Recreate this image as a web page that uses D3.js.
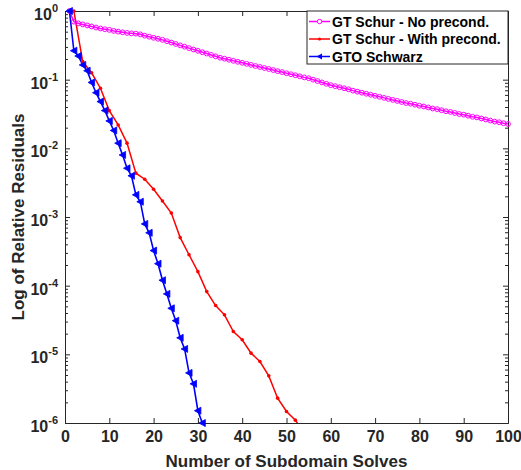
<!DOCTYPE html>
<html>
<head>
<meta charset="utf-8">
<script src="https://cdn.jsdelivr.net/npm/d3@7"></script>
<style>
  body { margin: 0; background: #fff; }
  svg { font-family: "Liberation Sans", Arial, sans-serif; font-weight: bold; }
</style>
</head>
<body>
<script>
// residuals
var noPrecX = d3.range(1, 101)
var noPrecY = [1.0, 0.700, 0.661, 0.638, 0.617, 0.596, 0.575, 0.556, 0.543, 0.531,
  0.513, 0.501, 0.490, 0.479, 0.473, 0.468, 0.457, 0.437, 0.422, 0.407,
  0.394, 0.380, 0.363, 0.347, 0.331, 0.316, 0.302, 0.288, 0.275, 0.263,
  0.251, 0.240, 0.229, 0.219, 0.209, 0.202, 0.195, 0.188, 0.182, 0.176,
  0.170, 0.164, 0.158, 0.153, 0.148, 0.143, 0.138, 0.133, 0.129, 0.124,
  0.120, 0.116, 0.112, 0.108, 0.105, 0.100, 0.0955, 0.0912, 0.0871, 0.0832,
  0.0804, 0.0776, 0.0750, 0.0724, 0.0692, 0.0668, 0.0646, 0.0624, 0.0603, 0.0582,
  0.0562, 0.0543, 0.0525, 0.0507, 0.0490, 0.0473, 0.0457, 0.0447, 0.0432, 0.0417,
  0.0407, 0.0394, 0.0380, 0.0372, 0.0359, 0.0347, 0.0339, 0.0327, 0.0316, 0.0309,
  0.0299, 0.0288, 0.0282, 0.0272, 0.0263, 0.0254, 0.0245, 0.0240, 0.0232, 0.0226]

var precX = [2, 4, 6, 8, 10, 12, 14, 16, 18, 20, 22, 24, 26, 28, 30, 32, 34, 36, 38, 40, 42, 44, 46, 48, 50, 52, 54]
var precY = [1.0, 0.183, 0.126, 0.075, 0.0354, 0.0219, 0.0119, 0.00435, 0.00355, 0.00254,
  0.00171, 0.00114, 5.01e-4, 2.82e-4, 1.60e-4, 8.2e-5, 5.13e-5, 3.76e-5, 2.15e-5, 1.63e-5,
  1.04e-5, 7.85e-6, 4.86e-6, 2.30e-6, 1.47e-6, 1.10e-6, 7.1e-7]

var gtoX = d3.range(1, 32)
var gtoY = [1.0, 0.264, 0.221, 0.164, 0.135, 0.0912, 0.0646, 0.0479, 0.0355, 0.0251,
  0.0182, 0.0119, 0.00802, 0.00513, 0.00398, 0.00210, 0.00167, 7.94e-4, 5.89e-4, 3.24e-4,
  2.09e-4, 1.20e-4, 7.59e-5, 4.68e-5, 3.09e-5, 1.74e-5, 1.20e-5, 5.37e-6, 3.72e-6, 1.51e-6,
  1.0e-6]

var seriesNames = ["GT Schur - No precond.", "GT Schur - With precond.", "GTO Schwarz"]
var xTicks = [0, 10, 20, 30, 40, 50, 60, 70, 80, 90, 100]
var yExponents = [0, -1, -2, -3, -4, -5, -6]

var width = 521, height = 470
// plot box (note: "top" is taken by window.top)
var pLeft = 65, pRight = 508, pTop = 11, pBottom = 423
var axisColor = "#262626"

var svg = d3.select("body").append("svg")
    .attr("width", width)
    .attr("height", height)

var x = d3.scaleLinear().domain([0, 100]).range([pLeft, pRight])
var y = d3.scaleLog().domain([1e-6, 1]).range([pBottom, pTop])

svg.append("clipPath").attr("id", "plotclip")
  .append("rect")
    .attr("x", pLeft).attr("y", pTop)
    .attr("width", pRight - pLeft).attr("height", pBottom - pTop)

// minor log ticks
var minorTicks = []
yExponents.slice(1).forEach(function(e) {
    for (var k = 2; k <= 9; k++) minorTicks.push(k * Math.pow(10, e))
})
var majorTicks = yExponents.map(function(e) { return Math.pow(10, e) })

var axes = svg.append("g")

axes.append("g")
    .attr("transform", "translate(0," + pBottom + ")")
    .call(d3.axisBottom(x).tickValues(xTicks).tickSizeInner(-5).tickSizeOuter(0).tickPadding(8))
axes.append("g")
    .attr("transform", "translate(0," + pTop + ")")
    .call(d3.axisTop(x).tickValues(xTicks).tickSizeInner(-5).tickSizeOuter(0).tickFormat(""))
axes.append("g")
    .attr("transform", "translate(" + pLeft + ",0)")
    .call(d3.axisLeft(y).tickValues(majorTicks).tickSizeInner(-5).tickSizeOuter(0).tickFormat(""))
axes.append("g")
    .attr("transform", "translate(" + pLeft + ",0)")
    .call(d3.axisLeft(y).tickValues(minorTicks).tickSizeInner(-3).tickSizeOuter(0).tickFormat(""))
axes.append("g")
    .attr("transform", "translate(" + pRight + ",0)")
    .call(d3.axisRight(y).tickValues(majorTicks).tickSizeInner(-5).tickSizeOuter(0).tickFormat(""))
axes.append("g")
    .attr("transform", "translate(" + pRight + ",0)")
    .call(d3.axisRight(y).tickValues(minorTicks).tickSizeInner(-3).tickSizeOuter(0).tickFormat(""))

axes.selectAll(".domain").attr("stroke", axisColor).attr("stroke-width", 1)
axes.selectAll(".tick line").attr("stroke", axisColor)
axes.selectAll(".tick text")
    .attr("fill", axisColor)
    .style("font-size", "16px")
    .style("font-family", "'Liberation Sans', Arial, sans-serif")
    .style("font-weight", "bold")

// y tick labels 10^n
var ylab = svg.append("g")
yExponents.forEach(function(e) {
    var t = ylab.append("text")
        .attr("x", pLeft - 7)
        .attr("y", y(Math.pow(10, e)) + 9)
        .attr("text-anchor", "end")
        .attr("fill", axisColor)
        .style("font-size", "16px")
    t.append("tspan").text("10")
    t.append("tspan").attr("dy", -8).style("font-size", "11px").text(String(e))
})

// axis titles
svg.append("text")
    .attr("x", (pLeft + pRight) / 2)
    .attr("y", 467)
    .attr("text-anchor", "middle")
    .attr("fill", axisColor)
    .style("font-size", "17px")
    .text("Number of Subdomain Solves")
svg.append("text")
    .attr("transform", "translate(24," + ((pTop + pBottom) / 2) + ") rotate(-90)")
    .attr("text-anchor", "middle")
    .attr("fill", axisColor)
    .style("font-size", "17px")
    .text("Log of Relative Residuals")

function pts(xs, ys) {
    return xs.map(function(d, i) { return [d, ys[i]] })
}
var line = d3.line().x(function(d) { return x(d[0]) }).y(function(d) { return y(d[1]) })
var plot = svg.append("g").attr("clip-path", "url(#plotclip)")
var marks = svg.append("g")

function inside(d) { return d[1] >= 1e-6 * 0.999 }

// GT Schur no precond (magenta, circles)
var magData = pts(noPrecX, noPrecY)
plot.append("path").datum(magData)
    .attr("d", line).attr("fill", "none").attr("stroke", "#ff00ff").attr("stroke-width", 1.5)
marks.selectAll(".mag").data(magData.filter(inside)).enter().append("circle")
    .attr("cx", function(d) { return x(d[0]) })
    .attr("cy", function(d) { return y(d[1]) })
    .attr("r", 2.4)
    .attr("fill", "none").attr("stroke", "#ff00ff").attr("stroke-width", 1)

// GT Schur with precond (red, dots)
var redData = pts(precX, precY)
plot.append("path").datum(redData)
    .attr("d", line).attr("fill", "none").attr("stroke", "#ff0000").attr("stroke-width", 1.5)
marks.selectAll(".red").data(redData.filter(inside)).enter().append("circle")
    .attr("cx", function(d) { return x(d[0]) })
    .attr("cy", function(d) { return y(d[1]) })
    .attr("r", 1.8)
    .attr("fill", "#ff0000")

// GTO Schwarz (blue, left triangles)
var triangle = "M-3.5,0L3,-3.5L3,3.5Z"
var blueData = pts(gtoX, gtoY)
plot.append("path").datum(blueData)
    .attr("d", line).attr("fill", "none").attr("stroke", "#0000ff").attr("stroke-width", 1.6)
marks.selectAll(".blue").data(blueData.filter(inside)).enter().append("path")
    .attr("d", triangle)
    .attr("transform", function(d) { return "translate(" + x(d[0]) + "," + y(d[1]) + ")" })
    .attr("fill", "#0000ff").attr("stroke", "#0000ff").attr("stroke-width", 0.8)

// legend
var legend = svg.append("g").attr("transform", "translate(307,11)")
legend.append("rect")
    .attr("width", 201).attr("height", 53)
    .attr("fill", "#fff").attr("stroke", axisColor).attr("stroke-width", 1)
var legColors = ["#ff00ff", "#ff0000", "#0000ff"]
seriesNames.forEach(function(name, i) {
    var ly = 10.5 + i * 17.5
    legend.append("line")
        .attr("x1", 2).attr("x2", 23).attr("y1", ly).attr("y2", ly)
        .attr("stroke", legColors[i]).attr("stroke-width", 1.5)
    if (i == 0) {
        legend.append("circle").attr("cx", 12.5).attr("cy", ly).attr("r", 2.2)
            .attr("fill", "#fff").attr("stroke", legColors[i])
    } else if (i == 1) {
        legend.append("circle").attr("cx", 12.5).attr("cy", ly).attr("r", 1.6)
            .attr("fill", legColors[i])
    } else {
        legend.append("path").attr("d", "M-3,0L2.5,-3L2.5,3Z")
            .attr("transform", "translate(12.5," + ly + ")")
            .attr("fill", legColors[i])
    }
    legend.append("text")
        .attr("x", 25).attr("y", ly + 5)
        .attr("fill", "#000")
        .style("font-size", "14px")
        .text(name)
})
</script>
</body>
</html>
